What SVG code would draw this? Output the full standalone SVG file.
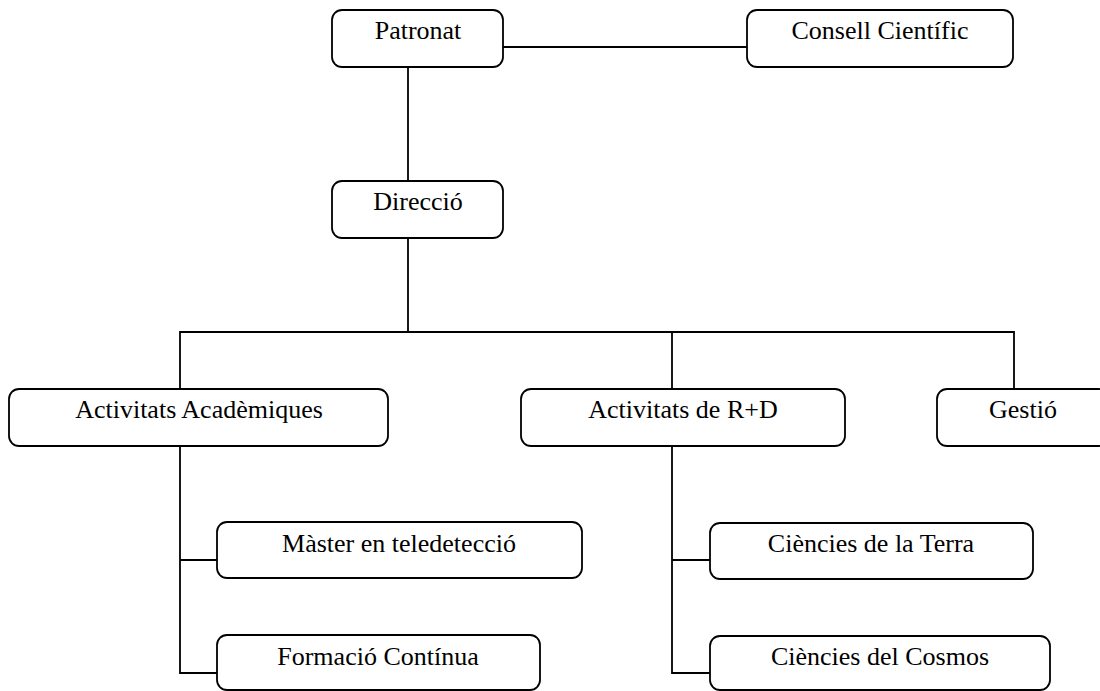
<svg xmlns="http://www.w3.org/2000/svg" width="1100" height="691" viewBox="0 0 1100 691">
<style>
.box{fill:#fff;stroke:#000;stroke-width:1.8}
.lbl{font-family:"Liberation Serif","Times New Roman",serif;font-size:26px;fill:#000;text-anchor:middle}
.conn{fill:none;stroke:#000;stroke-width:1.8}
</style>
<rect width="1100" height="691" fill="#fff"/>
<g id="connectors" class="conn">
<path d="M503 47H747"/>
<path d="M408 67V181"/>
<path d="M408 238V332"/>
<path d="M180 389V332H1014V389"/>
<path d="M672 332V389"/>
<path d="M180 446V673H217"/>
<path d="M180 560H217"/>
<path d="M672 446V673H710"/>
<path d="M672 560H710"/>
</g>
<g id="patronat"><rect class="box" x="332" y="10" width="171" height="57" rx="10"/><text class="lbl" x="418" y="39">Patronat</text></g>
<g id="consell"><rect class="box" x="747" y="10" width="266" height="57" rx="10"/><text class="lbl" x="880" y="39">Consell Científic</text></g>
<g id="direccio"><rect class="box" x="332" y="181" width="171" height="57" rx="10"/><text class="lbl" x="418" y="210">Direcció</text></g>
<g id="academiques"><rect class="box" x="9" y="389" width="379" height="57" rx="10"/><text class="lbl" x="199" y="418">Activitats Acadèmiques</text></g>
<g id="rd"><rect class="box" x="521" y="389" width="324" height="57" rx="10"/><text class="lbl" x="683" y="418">Activitats de R+D</text></g>
<g id="gestio"><rect class="box" x="937" y="389" width="172" height="57" rx="10"/><text class="lbl" x="1023" y="418">Gestió</text></g>
<g id="master"><rect class="box" x="217" y="522" width="365" height="56" rx="10"/><text class="lbl" x="399" y="552">Màster en teledetecció</text></g>
<g id="formacio"><rect class="box" x="217" y="635" width="323" height="55" rx="10"/><text class="lbl" x="378" y="665">Formació Contínua</text></g>
<g id="terra"><rect class="box" x="710" y="523" width="323" height="56" rx="10"/><text class="lbl" x="871" y="552">Ciències de la Terra</text></g>
<g id="cosmos"><rect class="box" x="710" y="636" width="340" height="54" rx="10"/><text class="lbl" x="880" y="665">Ciències del Cosmos</text></g>
</svg>
